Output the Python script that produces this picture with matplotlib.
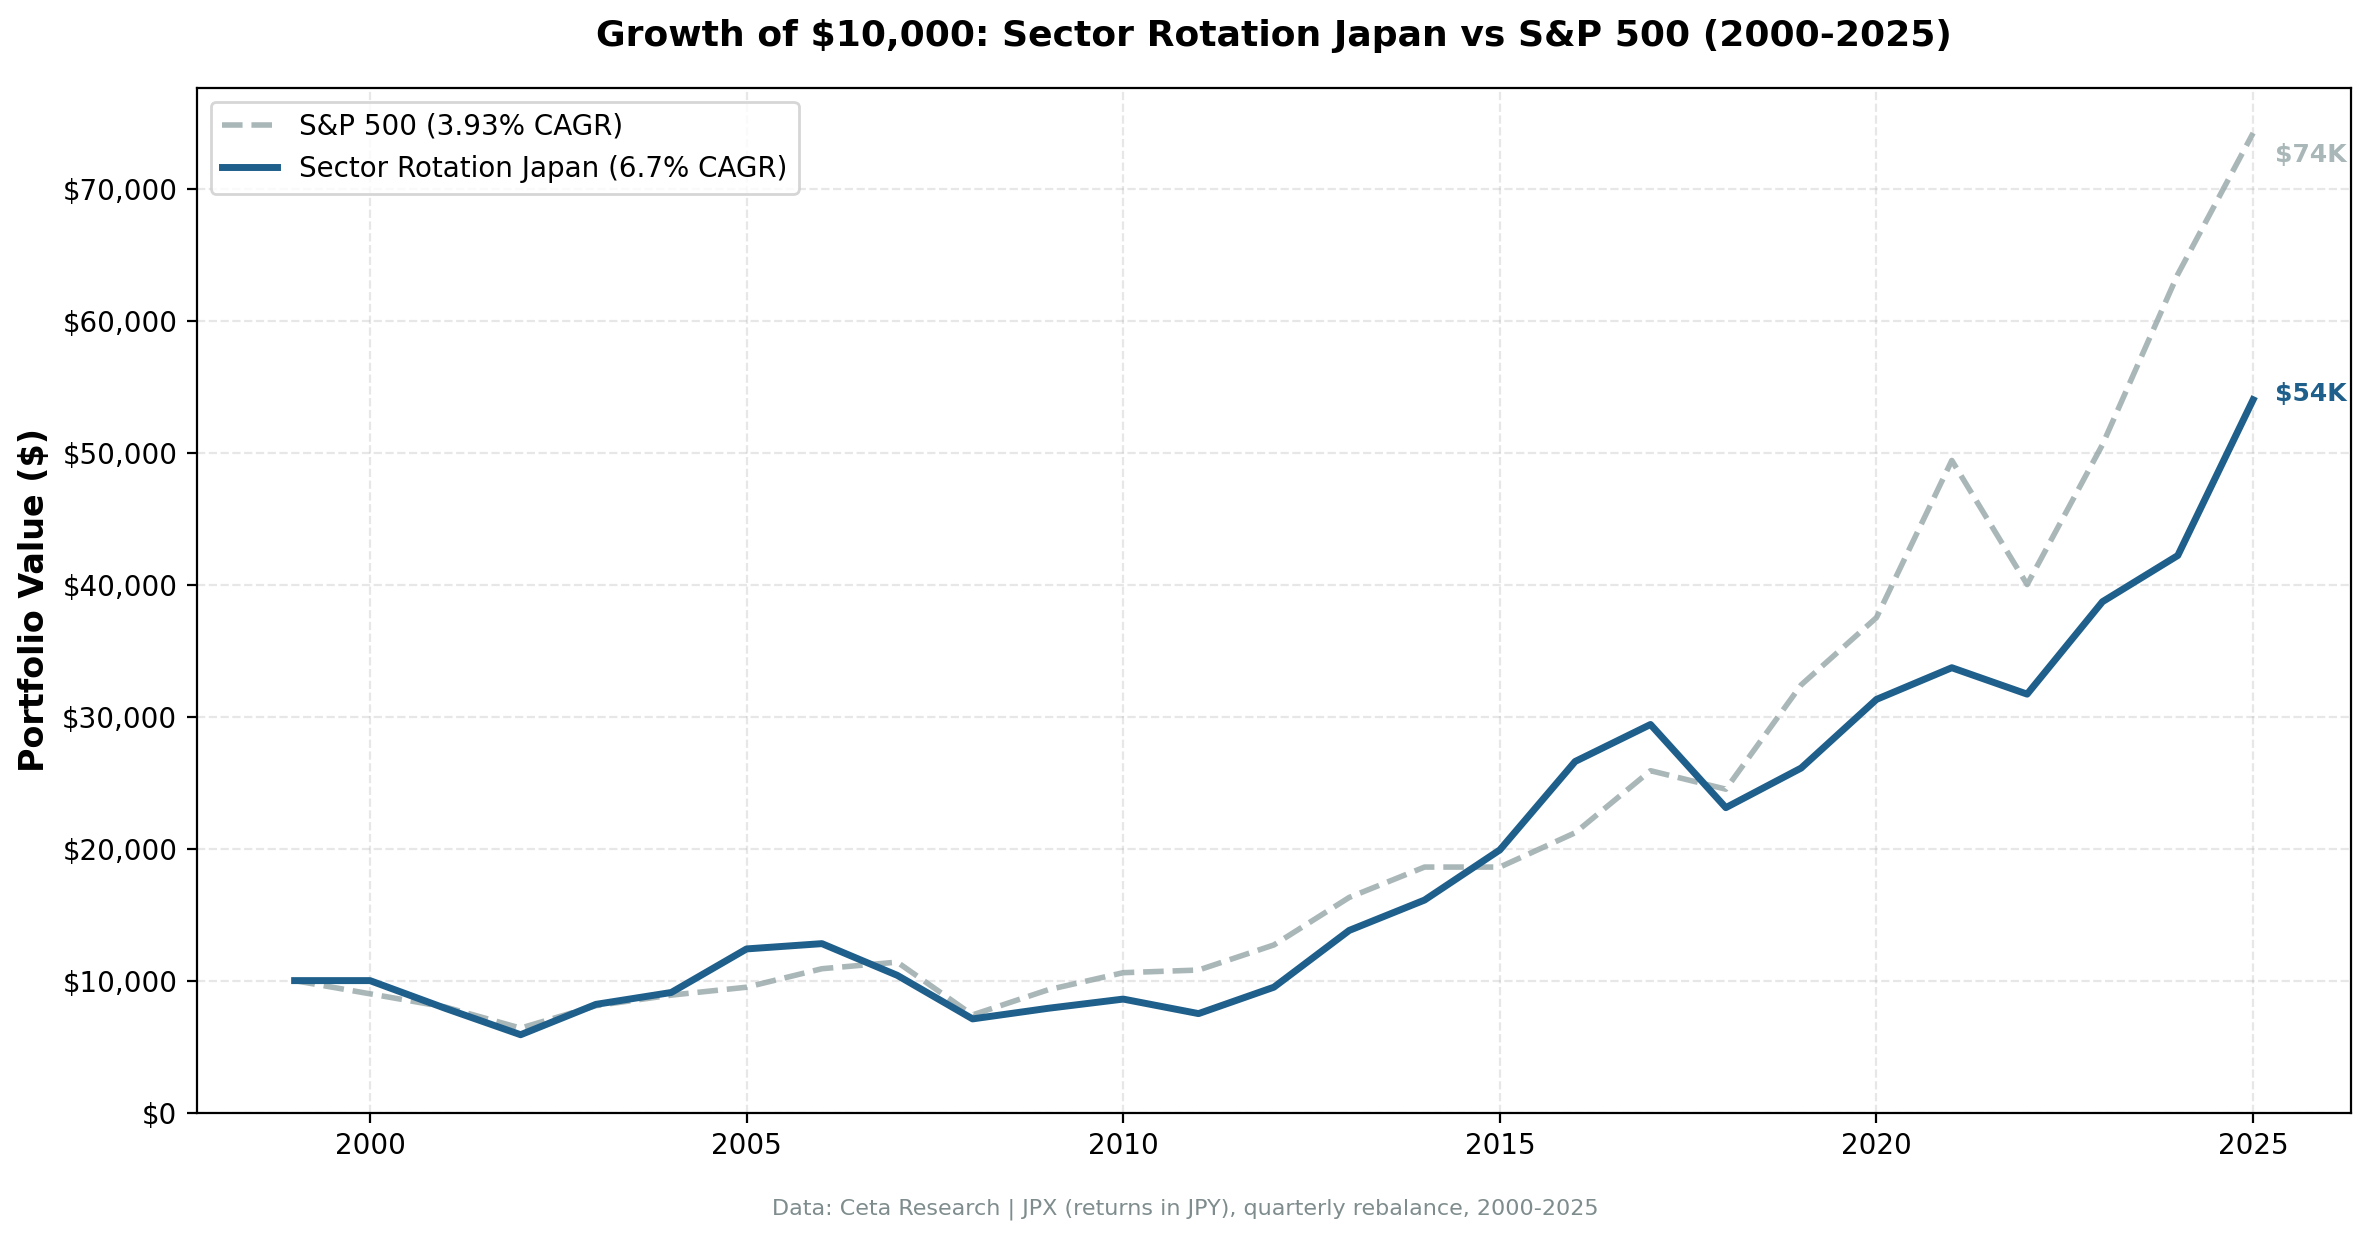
import matplotlib
matplotlib.use("Agg")
import matplotlib.pyplot as plt
from matplotlib.ticker import FuncFormatter

years = list(range(1999, 2026))
sector_rotation = [10000, 10000, 7900, 5900, 8200, 9100, 12400, 12800, 10400, 7100,
                   7900, 8600, 7500, 9500, 13800, 16100, 19900, 26600, 29400, 23100,
                   26100, 31300, 33700, 31700, 38700, 42200, 54000]
sp500 = [10000, 9000, 8000, 6400, 8100, 8900, 9500, 10900, 11400, 7400,
         9300, 10600, 10800, 12700, 16300, 18600, 18600, 21200, 25900, 24500,
         32400, 37500, 49400, 40000, 50600, 63500, 74200]

sp_label = "S&P 500 (3.93% CAGR)"
sr_label = "Sector Rotation Japan (6.7% CAGR)"

SR_COLOR = "#1f5f8b"
SP_COLOR = "#95a5a6"

fig = plt.figure(figsize=(11.85, 6.195), dpi=200)
ax = fig.add_axes([0.083, 0.102, 0.909, 0.827])

ax.plot(years, sp500, color=SP_COLOR, alpha=0.8, linestyle="--", linewidth=2, label=sp_label)
ax.plot(years, sector_rotation, color=SR_COLOR, linewidth=2.5, label=sr_label)

ax.set_ylim(bottom=0)
ax.yaxis.set_major_formatter(FuncFormatter(lambda v, p: f"${v:,.0f}"))
ax.grid(True, linestyle="--", alpha=0.3)
ax.set_ylabel("Portfolio Value ($)", fontsize=12, fontweight="bold")
ax.tick_params(labelsize=10)
ax.legend(loc="upper left", fontsize=10)

ax.annotate(f"${sp500[-1]/1000:.0f}K", xy=(years[-1], sp500[-1]), xytext=(8, -8),
            textcoords="offset points", color=SP_COLOR, alpha=0.8, fontsize=9,
            fontweight="bold", va="center")
ax.annotate(f"${sector_rotation[-1]/1000:.0f}K", xy=(years[-1], sector_rotation[-1]), xytext=(8, 2),
            textcoords="offset points", color=SR_COLOR, fontsize=9,
            fontweight="bold", va="center")

ax.set_title("Growth of $10,000: Sector Rotation Japan vs S&P 500 (2000-2025)",
             fontsize=13, fontweight="bold", pad=15)
fig.text(0.5, 0.024, "Data: Ceta Research | JPX (returns in JPY), quarterly rebalance, 2000-2025",
         ha="center", va="center", fontsize=8, color="#7f8c8d")

fig.savefig("out.png", dpi=200)
